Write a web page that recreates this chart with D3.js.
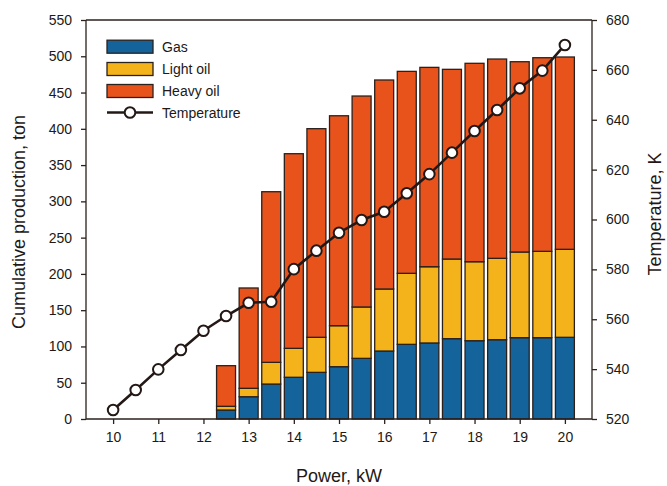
<!DOCTYPE html>
<html><head><meta charset="utf-8">
<script src="https://cdn.jsdelivr.net/npm/d3@7"></script>
<style>body{margin:0;background:#fff}svg{display:block}text{font-family:"Liberation Sans",Arial,sans-serif;fill:#231815}</style>
</head><body>
<svg id="c" width="667" height="486"></svg>
<script>
const power = [10,10.5,11,11.5,12,12.5,13,13.5,14,14.5,15,15.5,16,16.5,17,17.5,18,18.5,19,19.5,20];
const gas =      [0,0,0,0,0,12.4,30.7,48.2,57.5,64.3,72.1,83.6,93.7,102.9,104.8,110.7,107.9,109.3,112.1,112.1,112.6];
const lightOil = [0,0,0,0,0,5.1,11.6,29.9,39.9,48.3,56.5,70.8,85.5,97.9,105.1,109.8,108.9,112.2,118.1,119.0,121.3];
const heavyOil = [0,0,0,0,0,56.0,138.3,235.2,268.3,287.6,289.4,290.8,288.1,278.4,274.8,261.5,273.5,274.7,262.3,266.9,265.1];
const temperature = [523.6,531.6,539.9,547.7,555.4,561.3,566.6,567.0,580.1,587.5,594.7,599.8,603.1,610.5,618.2,626.8,635.5,643.9,652.6,659.7,670.0];
const xTicks = [10,11,12,13,14,15,16,17,18,19,20];
const yTicks = [0,50,100,150,200,250,300,350,400,450,500,550];
const tTicks = [520,540,560,580,600,620,640,660,680];
const seriesNames = ["Gas","Light oil","Heavy oil"];
const colors = ["#15639b","#f4b31a","#e8531c"];

const svg = d3.select("#c");
const L=86,R=592,T=20,B=419;
const x = d3.scaleLinear().domain([9.4,20.6]).range([L,R]);
const y = d3.scaleLinear().domain([0,550]).range([B,T]);
const yT = d3.scaleLinear().domain([520,680]).range([B,T]);
const ink="#2a211d";

const rows = power.map((p,i)=>({p, Gas:gas[i], "Light oil":lightOil[i], "Heavy oil":heavyOil[i]}));
const stack = d3.stack().keys(seriesNames)(rows);
const bw = x(10.42)-x(10);
stack.forEach((s,k)=>{
  svg.append("g").selectAll("rect").data(s.filter(d=>d[1]-d[0]>0)).join("rect")
    .attr("x",d=>x(d.data.p)-bw/2).attr("width",bw)
    .attr("y",d=>y(d[1])).attr("height",d=>y(d[0])-y(d[1]))
    .attr("fill",colors[k]).attr("stroke",ink).attr("stroke-width",1.3);
});

// frame
svg.append("line").attr("x1",L).attr("x2",R).attr("y1",T).attr("y2",T).attr("stroke",ink).attr("stroke-width",1.3);

const ax = svg.append("g").attr("transform",`translate(0,${B})`)
  .call(d3.axisBottom(x).tickValues(xTicks).tickSize(5).tickPadding(8).tickFormat(d3.format("d")));
const ay = svg.append("g").attr("transform",`translate(${L},0)`)
  .call(d3.axisLeft(y).tickValues(yTicks).tickSize(5).tickPadding(9));
const at = svg.append("g").attr("transform",`translate(${R},0)`)
  .call(d3.axisRight(yT).tickValues(tTicks).tickSize(5).tickPadding(9));
[ax,ay,at].forEach(g=>{
  g.select(".domain").attr("stroke",ink).attr("stroke-width",1.3);
  g.selectAll(".tick line").attr("stroke",ink).attr("stroke-width",1.3);
  g.selectAll(".tick text").attr("font-size",14).attr("fill","#231815").style("font-family","Liberation Sans, Arial, sans-serif");
});
ax.select(".domain").attr("d",`M${L},0H${R}`);
ay.select(".domain").attr("d",`M0,${B}V${T}`);
at.select(".domain").attr("d",`M0,${B}V${T}`);

// temperature line
const line = d3.line().x((d,i)=>x(power[i])).y(d=>yT(d));
svg.append("path").datum(temperature).attr("d",line).attr("fill","none").attr("stroke","#231815").attr("stroke-width",2.6);
svg.append("g").selectAll("circle").data(temperature).join("circle")
  .attr("cx",(d,i)=>x(power[i])).attr("cy",d=>yT(d)).attr("r",5.3)
  .attr("fill","#fff").attr("stroke","#231815").attr("stroke-width",2);

// titles
svg.append("text").attr("x",339).attr("y",482).attr("text-anchor","middle").attr("font-size",18).text("Power, kW");
svg.append("text").attr("transform","translate(25,222) rotate(-90)").attr("text-anchor","middle").attr("font-size",18).text("Cumulative production, ton");
svg.append("text").attr("transform","translate(661,214) rotate(-90)").attr("text-anchor","middle").attr("font-size",18).text("Temperature, K");

// legend
const lg = svg.append("g");
const ly = [46.7,69,91];
seriesNames.forEach((n,k)=>{
  lg.append("rect").attr("x",107).attr("y",ly[k]-6.5).attr("width",46).attr("height",13)
    .attr("fill",colors[k]).attr("stroke",ink).attr("stroke-width",1.3);
  lg.append("text").attr("x",162).attr("y",ly[k]+5).attr("font-size",14).text(n);
});
lg.append("line").attr("x1",107).attr("x2",153).attr("y1",112.5).attr("y2",112.5).attr("stroke","#231815").attr("stroke-width",2.6);
lg.append("circle").attr("cx",130).attr("cy",112.5).attr("r",5.3).attr("fill","#fff").attr("stroke","#231815").attr("stroke-width",2);
lg.append("text").attr("x",162).attr("y",117.5).attr("font-size",14).text("Temperature");
</script>
</body></html>
